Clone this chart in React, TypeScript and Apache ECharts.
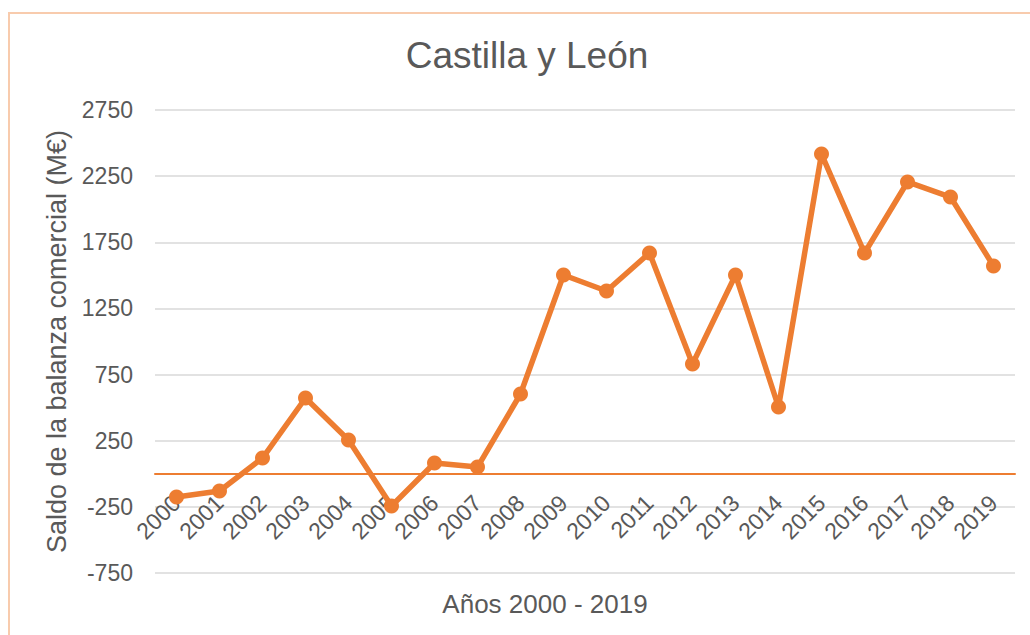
import React, { useEffect, useRef } from "react";
import * as echarts from "echarts";

const years = ["2000","2001","2002","2003","2004","2005","2006","2007","2008","2009","2010","2011","2012","2013","2014","2015","2016","2017","2018","2019"];
const saldo = [-175, -130, 119, 573, 255, -243, 82, 51, 603, 1503, 1382, 1669, 830, 1503, 505, 2417, 1669, 2206, 2092, 1571];
const yMin = -750;
const yMax = 2750;
const yStep = 500;
const titleText = "Castilla y León";
const xName = "Años 2000 - 2019";
const yName = "Saldo de la balanza comercial (M€)";

const FONT = "'Liberation Sans', Arial, sans-serif";
const TXT = "#595959";
const ORANGE = "#ED7D31";

export default function App() {
  const ref = useRef<HTMLDivElement>(null);
  useEffect(() => {
    if (!ref.current) return;
    const chart = echarts.init(ref.current, undefined, { renderer: "svg" });
    chart.setOption({
      animation: false,
      backgroundColor: "#ffffff",
      textStyle: { fontFamily: FONT },
      title: {
        text: titleText,
        left: 527,
        top: 37,
        textAlign: "center",
        padding: 0,
        textStyle: { fontFamily: FONT, fontSize: 37, fontWeight: "normal", color: TXT },
      },
      graphic: [
        {
          type: "rect",
          silent: true,
          shape: { x: 9, y: 13, width: 1100, height: 700 },
          style: { fill: "none", stroke: "#F8CBAD", lineWidth: 2 },
        },
        {
          type: "text",
          x: 545,
          y: 604,
          style: {
            text: xName,
            fontFamily: FONT,
            fontSize: 26,
            fill: TXT,
            align: "center",
            verticalAlign: "middle",
          },
        },
      ],
      grid: { left: 155, right: 15, top: 110, bottom: 62, containLabel: false },
      xAxis: {
        type: "category",
        data: years,
        boundaryGap: true,
        axisLine: { onZero: true, lineStyle: { color: ORANGE, width: 2 } },
        axisTick: { show: false },
        axisLabel: {
          rotate: 45,
          margin: -74,
          fontSize: 23,
          color: TXT,
          fontFamily: FONT,
          interval: 0,
        },
        splitLine: { show: false },
      },
      yAxis: {
        type: "value",
        min: yMin,
        max: yMax,
        interval: yStep,
        name: yName,
        nameLocation: "middle",
        nameRotate: 90,
        nameGap: 84,
        nameTextStyle: { fontFamily: FONT, fontSize: 27, color: TXT },
        axisLine: { show: false },
        axisTick: { show: false },
        axisLabel: {
          margin: 22,
          fontSize: 23,
          color: TXT,
          fontFamily: FONT,
          formatter: (v: number) => String(v),
        },
        splitLine: { lineStyle: { color: "#D9D9D9", width: 1.5 } },
      },
      series: [
        {
          type: "line",
          data: saldo,
          symbol: "circle",
          symbolSize: 15,
          lineStyle: { color: ORANGE, width: 5.5 },
          itemStyle: { color: ORANGE },
          z: 3,
        },
      ],
    });
    return () => chart.dispose();
  }, []);
  return (
    <div
      ref={ref}
      style={{ position: "absolute", left: 0, top: 0, width: 1030, height: 635 }}
    />
  );
}
